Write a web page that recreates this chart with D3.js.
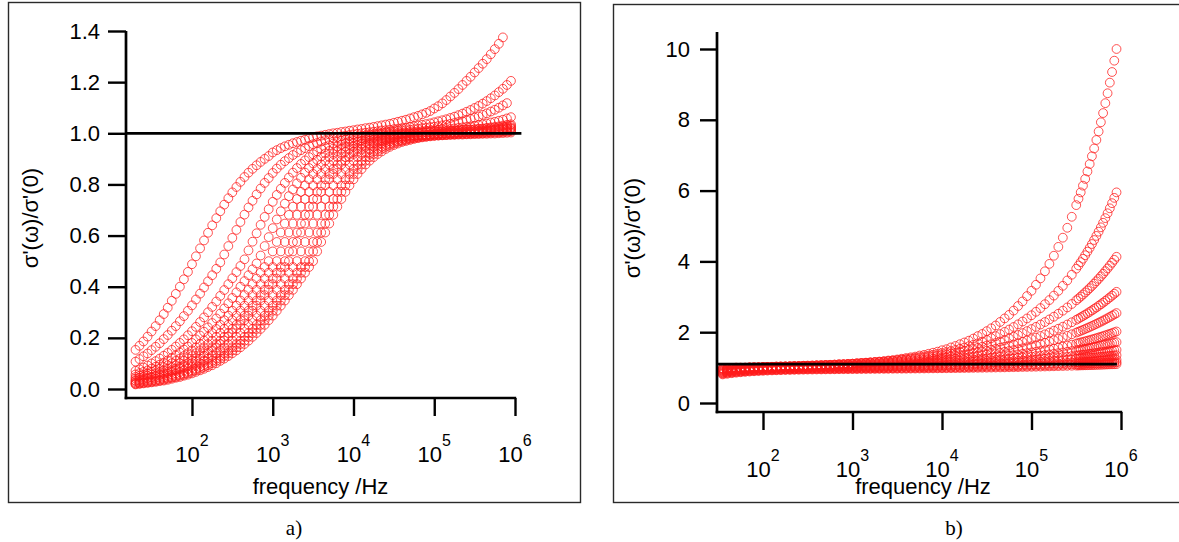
<!DOCTYPE html>
<html><head><meta charset="utf-8">
<script src="https://cdn.jsdelivr.net/npm/d3@7"></script>
<style>body{margin:0;background:#fff}svg{display:block}</style>
</head><body>
<svg id="chart" width="1179" height="542"></svg>
<script>
// ---------- Panel a) data ----------
const freqA = [20,22.4,25.1,28.2,31.6,35.5,39.8,44.7,50.1,56.2,63.1,70.8,79.4,89.1,
100,112,126,141,158,178,200,224,251,282,316,355,398,447,501,562,631,708,794,891,
1000,1122,1259,1413,1585,1778,1995,2239,2512,2818,3162,3548,3981,4467,5012,5623,6310,7079,7943,8913,
10000,11220,12590,14130,15850,17780,19950,22390,25120,28180,31620,35480,39810,44670,50120,56230,63100,70790,79430,89130,
100000,112200,125900,141300,158500,177800,199500,223900,251200,281800,316200,354800,398100,446700,501200,562300,631000,707900,794300,891300];

const a01 = [0.153,0.169,0.186,0.205,0.225,0.246,0.269,0.293,0.318,0.345,0.372,0.400,0.429,0.458,
0.488,0.519,0.550,0.581,0.611,0.640,0.668,0.695,0.721,0.746,0.769,0.790,0.810,0.829,0.846,0.861,0.875,0.888,0.900,0.911,
0.925,0.934,0.942,0.949,0.955,0.961,0.966,0.971,0.975,0.980,0.984,0.988,0.991,0.994,0.997,1.000,1.002,1.005,1.007,1.010,
1.012,1.015,1.017,1.020,1.022,1.025,1.028,1.031,1.034,1.037,1.041,1.045,1.049,1.053,1.058,1.063,1.068,1.074,1.080,1.087,
1.097,1.106,1.117,1.130,1.144,1.158,1.173,1.189,1.205,1.221,1.238,1.255,1.272,1.290,1.309,1.329,1.350,1.375,null,null];
const a02 = [0.107,0.117,0.128,0.139,0.152,0.165,0.179,0.195,0.211,0.228,0.246,0.265,0.285,0.306,
0.327,0.350,0.373,0.397,0.421,0.445,0.470,0.495,0.526,0.559,0.591,0.622,0.653,0.682,0.710,0.736,0.761,0.784,0.806,0.825,
0.845,0.862,0.877,0.891,0.903,0.915,0.925,0.934,0.942,0.950,0.957,0.962,0.968,0.973,0.977,0.981,0.985,0.988,0.991,0.993,
0.996,0.998,1.000,1.002,1.004,1.006,1.008,1.011,1.012,1.014,1.016,1.018,1.020,1.022,1.025,1.027,1.030,1.033,1.036,1.039,
1.043,1.047,1.051,1.055,1.060,1.065,1.071,1.077,1.084,1.091,1.099,1.107,1.116,1.126,1.137,1.148,1.161,1.174,1.189,1.205];
const a03 = [0.071,0.077,0.084,0.092,0.100,0.109,0.119,0.130,0.141,0.153,0.166,0.180,0.194,0.210,
0.226,0.243,0.262,0.280,0.300,0.321,0.342,0.364,0.387,0.410,0.433,0.457,0.481,0.507,0.542,0.576,0.609,0.642,0.673,0.703,
0.732,0.759,0.783,0.806,0.827,0.846,0.864,0.880,0.894,0.907,0.918,0.929,0.938,0.946,0.953,0.960,0.966,0.970,0.975,0.979,
0.984,0.986,0.990,0.992,0.995,0.997,0.999,1.001,1.004,1.005,1.007,1.009,1.011,1.012,1.014,1.016,1.018,1.020,1.022,1.024,
1.026,1.028,1.031,1.034,1.037,1.040,1.044,1.047,1.052,1.056,1.061,1.066,1.072,1.078,1.085,1.092,1.100,1.109,1.118,null];
const a04 = [0.057,0.062,0.067,0.073,0.080,0.087,0.095,0.103,0.112,0.121,0.131,0.142,0.154,0.166,
0.180,0.194,0.209,0.224,0.241,0.258,0.276,0.295,0.315,0.335,0.356,0.378,0.400,0.422,0.445,0.468,0.491,0.522,0.559,0.594,
0.629,0.663,0.695,0.725,0.754,0.780,0.804,0.826,0.846,0.864,0.882,0.896,0.909,0.921,0.931,0.940,0.948,0.955,0.962,0.967,
0.973,0.977,0.980,0.984,0.987,0.989,0.992,0.994,0.996,0.998,1.000,1.001,1.002,1.003,1.005,1.006,1.007,1.008,1.010,1.011,
1.012,1.013,1.015,1.016,1.017,1.019,1.021,1.023,1.025,1.027,1.029,1.032,1.035,1.038,1.042,1.045,1.049,1.053,1.058,1.063];
const a05 = [0.047,0.052,0.056,0.061,0.067,0.073,0.079,0.086,0.093,0.101,0.110,0.119,0.129,0.140,
0.151,0.163,0.176,0.189,0.204,0.219,0.235,0.251,0.269,0.287,0.306,0.326,0.346,0.367,0.388,0.410,0.432,0.455,0.477,0.500,
0.538,0.575,0.612,0.647,0.681,0.713,0.743,0.771,0.796,0.820,0.841,0.860,0.878,0.893,0.907,0.919,0.930,0.940,0.948,0.955,
0.961,0.967,0.971,0.976,0.980,0.983,0.986,0.988,0.991,0.993,0.995,0.996,0.998,0.999,1.000,1.001,1.002,1.003,1.004,1.005,
1.006,1.007,1.008,1.009,1.010,1.011,1.012,1.013,1.014,1.015,1.016,1.018,1.019,1.021,1.023,1.025,1.027,1.030,1.033,1.035];
const a06 = [0.040,0.044,0.047,0.052,0.056,0.061,0.067,0.073,0.079,0.086,0.093,0.101,0.110,0.119,
0.129,0.140,0.151,0.163,0.176,0.189,0.204,0.219,0.235,0.251,0.269,0.287,0.306,0.326,0.346,0.367,0.388,0.410,0.432,0.455,
0.477,0.500,0.538,0.575,0.612,0.647,0.681,0.713,0.743,0.771,0.796,0.820,0.841,0.860,0.878,0.893,0.907,0.919,0.929,0.939,
0.947,0.954,0.960,0.966,0.970,0.974,0.978,0.981,0.984,0.986,0.991,0.993,0.995,0.996,0.998,0.999,1.000,1.001,1.003,1.004,
1.005,1.006,1.007,1.008,1.009,1.010,1.011,1.012,1.013,1.014,1.015,1.016,1.017,1.019,1.020,1.022,1.024,1.026,1.028,1.030];
const a07 = [0.033,0.036,0.040,0.044,0.047,0.052,0.056,0.061,0.067,0.073,0.079,0.086,0.093,0.101,
0.110,0.119,0.129,0.140,0.151,0.163,0.176,0.189,0.204,0.219,0.235,0.251,0.269,0.287,0.306,0.326,0.346,0.367,0.388,0.410,
0.432,0.455,0.477,0.500,0.538,0.575,0.612,0.647,0.681,0.713,0.743,0.771,0.796,0.820,0.841,0.860,0.878,0.893,0.907,0.919,
0.929,0.939,0.947,0.954,0.960,0.966,0.970,0.974,0.978,0.981,0.984,0.986,0.988,0.990,0.991,0.992,0.993,0.994,0.995,0.996,
0.999,1.000,1.001,1.002,1.003,1.004,1.005,1.006,1.007,1.008,1.009,1.010,1.012,1.013,1.015,1.016,1.018,1.020,1.022,1.024];
const a08 = [0.031,0.033,0.036,0.040,0.044,0.047,0.052,0.056,0.061,0.067,0.073,0.079,0.086,0.093,
0.101,0.110,0.119,0.129,0.140,0.151,0.163,0.176,0.189,0.204,0.219,0.235,0.251,0.269,0.287,0.306,0.326,0.346,0.367,0.388,
0.410,0.432,0.455,0.477,0.500,0.538,0.575,0.612,0.647,0.681,0.713,0.743,0.771,0.796,0.820,0.841,0.860,0.878,0.893,0.907,
0.919,0.929,0.939,0.947,0.954,0.960,0.966,0.970,0.974,0.978,0.981,0.984,0.986,0.988,0.990,0.991,0.992,0.993,0.994,0.995,
0.997,0.998,0.999,1.000,1.001,1.002,1.003,1.004,1.005,1.006,1.007,1.008,1.009,1.010,1.011,1.013,1.014,1.016,1.018,1.020];
const a09 = [0.026,0.028,0.031,0.033,0.036,0.040,0.044,0.047,0.052,0.056,0.061,0.067,0.073,0.079,
0.086,0.093,0.101,0.110,0.119,0.129,0.140,0.151,0.163,0.176,0.189,0.204,0.219,0.235,0.251,0.269,0.287,0.306,0.326,0.346,
0.367,0.388,0.410,0.432,0.455,0.477,0.500,0.538,0.575,0.612,0.647,0.681,0.713,0.743,0.771,0.796,0.820,0.841,0.860,0.878,
0.893,0.907,0.919,0.929,0.939,0.947,0.954,0.960,0.966,0.970,0.974,0.978,0.981,0.984,0.986,0.988,0.990,0.991,0.992,0.993,
0.995,0.996,0.997,0.998,0.999,1.000,1.001,1.002,1.003,1.004,1.005,1.006,1.007,1.008,1.009,1.011,1.012,1.014,1.016,1.018];
const a10 = [0.022,0.024,0.026,0.028,0.031,0.033,0.036,0.040,0.044,0.047,0.052,0.056,0.061,0.067,
0.073,0.079,0.086,0.093,0.101,0.110,0.119,0.129,0.140,0.151,0.163,0.176,0.189,0.204,0.219,0.235,0.251,0.269,0.287,0.306,
0.326,0.346,0.367,0.388,0.410,0.432,0.455,0.477,0.500,0.538,0.575,0.612,0.647,0.681,0.713,0.743,0.771,0.796,0.820,0.841,
0.860,0.878,0.893,0.907,0.919,0.929,0.939,0.947,0.954,0.960,0.966,0.970,0.974,0.978,0.981,0.984,0.986,0.988,0.990,0.991,
0.992,0.993,0.994,0.995,0.996,0.997,0.998,0.998,0.999,1.000,1.001,1.002,1.003,1.004,1.005,1.006,1.007,1.008,1.010,1.012];
const a11 = [0.020,0.022,0.024,0.026,0.028,0.031,0.033,0.036,0.040,0.044,0.047,0.052,0.056,0.061,
0.067,0.073,0.079,0.086,0.093,0.101,0.110,0.119,0.129,0.140,0.151,0.163,0.176,0.189,0.204,0.219,0.235,0.251,0.269,0.287,
0.306,0.326,0.346,0.367,0.388,0.410,0.432,0.455,0.477,0.500,0.538,0.575,0.612,0.647,0.681,0.713,0.743,0.771,0.796,0.820,
0.841,0.860,0.878,0.893,0.907,0.919,0.929,0.939,0.947,0.954,0.960,0.966,0.970,0.974,0.978,0.981,0.984,0.986,0.988,0.990,
0.991,0.992,0.993,0.994,0.995,0.996,0.997,0.998,0.998,0.999,0.999,1.000,1.000,1.001,1.002,1.003,1.004,1.005,1.006,1.008];
const a12 = [0.018,0.020,0.022,0.024,0.026,0.028,0.031,0.033,0.036,0.040,0.044,0.047,0.052,0.056,
0.061,0.067,0.073,0.079,0.086,0.093,0.101,0.110,0.119,0.129,0.140,0.151,0.163,0.176,0.189,0.204,0.219,0.235,0.251,0.269,
0.287,0.306,0.326,0.346,0.367,0.388,0.410,0.432,0.455,0.477,0.500,0.538,0.575,0.612,0.647,0.681,0.713,0.743,0.771,0.796,
0.820,0.841,0.860,0.878,0.893,0.907,0.919,0.929,0.939,0.947,0.954,0.960,0.966,0.970,0.974,0.978,0.981,0.984,0.986,0.988,
0.990,0.991,0.992,0.993,0.994,0.994,0.995,0.995,0.996,0.996,0.997,0.997,0.998,0.998,0.999,0.999,1.000,1.001,1.002,1.003];
const seriesA = [a01,a02,a03,a04,a05,a06,a07,a08,a09,a10,a11,a12];
const yTicksA = [0,0.2,0.4,0.6,0.8,1.0,1.2,1.4];
const refLevelA = 1.0;
const refSpanA = [15.2, 1.2e6];

// ---------- Panel b) data ----------
const freqB = [35.5,39.8,44.7,50.1,56.2,63.1,70.8,79.4,89.1,
100,112,126,141,158,178,200,224,251,282,316,355,398,447,501,562,631,708,794,891,
1000,1122,1259,1413,1585,1778,1995,2239,2512,2818,3162,3548,3981,4467,5012,5623,6310,7079,7943,8913,
10000,11220,12590,14130,15850,17780,19950,22390,25120,28180,31620,35480,39810,44670,50120,56230,63100,70790,79430,89130,
100000,112200,125900,141300,158500,177800,199500,223900,251200,281800,316200,
335000,354800,375800,398100,421700,446700,473200,501200,530900,562300,595700,631000,668300,707900,749900,794300,841400,891300];

const b01 = [0.98,0.99,0.99,1.00,1.00,1.00,1.01,1.01,1.01,
1.02,1.02,1.02,1.03,1.03,1.03,1.03,1.04,1.04,1.05,1.05,1.05,1.06,1.06,1.07,1.07,1.08,1.09,1.09,1.10,
1.11,1.12,1.13,1.14,1.15,1.16,1.17,1.18,1.20,1.21,1.23,1.25,1.27,1.29,1.31,1.34,1.36,1.39,1.42,1.45,
1.49,1.52,1.57,1.61,1.66,1.71,1.76,1.82,1.89,1.95,2.03,2.11,2.19,2.29,2.39,2.49,2.61,2.74,2.87,3.02,
3.17,3.34,3.52,3.72,3.93,4.16,4.41,4.67,4.95,5.26,5.59,
5.77,5.95,6.14,6.33,6.54,6.75,6.97,7.19,7.43,7.67,7.93,8.19,8.47,8.75,9.05,9.35,9.67,10.00];
const b02 = [0.970,0.975,0.980,0.986,0.990,0.995,1.000,1.004,1.008,
1.010,1.015,1.020,1.020,1.026,1.030,1.034,1.038,1.040,1.050,1.050,1.055,1.060,1.065,1.070,1.075,1.080,1.088,1.094,1.100,
1.108,1.116,1.124,1.133,1.142,1.152,1.163,1.174,1.186,1.199,1.213,1.227,1.243,1.260,1.277,1.296,1.316,1.337,1.360,1.384,
1.410,1.437,1.466,1.498,1.531,1.566,1.604,1.644,1.687,1.732,1.781,1.832,1.888,1.946,2.009,2.075,2.147,2.222,2.302,2.388,
2.479,2.577,2.680,2.791,2.908,3.034,3.167,3.310,3.462,3.623,3.795,
3.886,3.979,4.075,4.174,4.276,4.382,4.491,4.604,4.720,4.840,4.963,5.091,5.223,5.360,5.500,5.645,5.795,5.950];
const b03 = [0.964,0.972,0.979,0.986,0.991,0.997,1.002,1.007,1.011,
1.016,1.020,1.024,1.028,1.032,1.036,1.040,1.044,1.048,1.052,1.056,1.060,1.065,1.070,1.075,1.080,1.086,1.091,1.097,1.103,
1.110,1.117,1.125,1.132,1.140,1.149,1.158,1.167,1.177,1.188,1.199,1.211,1.224,1.237,1.251,1.266,1.282,1.298,1.316,1.334,
1.354,1.375,1.396,1.419,1.444,1.470,1.497,1.526,1.556,1.588,1.622,1.658,1.696,1.736,1.779,1.824,1.871,1.921,1.974,2.030,
2.089,2.151,2.217,2.287,2.361,2.438,2.521,2.608,2.700,2.797,2.900,
2.953,3.008,3.065,3.123,3.182,3.244,3.307,3.372,3.439,3.507,3.578,3.650,3.725,3.801,3.880,3.961,4.044,4.130];
const b04 = [0.945,0.954,0.963,0.969,0.977,0.982,0.988,0.993,0.997,
1.002,1.006,1.011,1.015,1.018,1.022,1.026,1.030,1.033,1.037,1.041,1.045,1.049,1.053,1.058,1.062,1.067,1.072,1.077,1.082,
1.088,1.094,1.100,1.107,1.113,1.120,1.128,1.135,1.143,1.152,1.161,1.170,1.180,1.190,1.201,1.213,1.225,1.238,1.251,1.265,
1.280,1.295,1.312,1.329,1.347,1.366,1.386,1.407,1.429,1.453,1.477,1.503,1.530,1.559,1.589,1.620,1.654,1.689,1.726,1.764,
1.805,1.848,1.893,1.940,1.990,2.043,2.098,2.156,2.217,2.281,2.349,
2.384,2.420,2.457,2.495,2.534,2.574,2.615,2.657,2.699,2.744,2.789,2.835,2.883,2.932,2.982,3.033,3.086,3.140];
const b05 = [0.932,0.942,0.951,0.960,0.967,0.973,0.980,0.984,0.990,
0.994,0.999,1.003,1.006,1.010,1.014,1.017,1.020,1.023,1.027,1.030,1.034,1.037,1.041,1.044,1.048,1.052,1.056,1.060,1.065,
1.070,1.074,1.079,1.084,1.089,1.094,1.100,1.106,1.112,1.119,1.126,1.133,1.140,1.148,1.157,1.166,1.175,1.184,1.195,1.205,
1.216,1.228,1.240,1.253,1.267,1.281,1.296,1.312,1.328,1.346,1.364,1.383,1.403,1.424,1.446,1.469,1.493,1.518,1.545,1.573,
1.602,1.633,1.666,1.700,1.735,1.773,1.812,1.853,1.897,1.942,1.990,
2.014,2.040,2.065,2.092,2.119,2.147,2.176,2.205,2.235,2.266,2.297,2.329,2.362,2.396,2.431,2.466,2.503,2.540];
const b06 = [0.912,0.923,0.933,0.942,0.951,0.958,0.964,0.970,0.976,
0.980,0.984,0.989,0.993,0.996,1.000,1.003,1.006,1.009,1.012,1.015,1.018,1.022,1.024,1.028,1.031,1.034,1.038,1.041,1.044,
1.048,1.052,1.056,1.059,1.063,1.068,1.072,1.077,1.082,1.087,1.093,1.098,1.104,1.110,1.116,1.123,1.130,1.137,1.144,1.152,
1.160,1.169,1.178,1.187,1.197,1.207,1.218,1.229,1.240,1.252,1.265,1.278,1.292,1.306,1.321,1.337,1.353,1.371,1.389,1.407,
1.427,1.447,1.469,1.491,1.514,1.539,1.564,1.591,1.619,1.648,1.678,
1.694,1.710,1.726,1.743,1.760,1.777,1.795,1.813,1.832,1.851,1.871,1.891,1.911,1.932,1.954,1.975,1.997,2.020];
const b07 = [0.900,0.913,0.923,0.933,0.941,0.949,0.956,0.962,0.967,
0.973,0.978,0.981,0.985,0.989,0.992,0.995,0.998,1.002,1.004,1.007,1.009,1.012,1.015,1.017,1.020,1.022,1.025,1.028,1.030,
1.033,1.037,1.040,1.043,1.046,1.049,1.053,1.057,1.061,1.065,1.069,1.073,1.077,1.082,1.086,1.091,1.097,1.102,1.107,1.113,
1.119,1.126,1.132,1.139,1.146,1.154,1.161,1.169,1.178,1.187,1.196,1.205,1.215,1.226,1.237,1.248,1.260,1.272,1.285,1.298,
1.312,1.326,1.341,1.357,1.373,1.390,1.408,1.427,1.446,1.466,1.487,
1.498,1.509,1.520,1.532,1.543,1.555,1.568,1.580,1.593,1.606,1.619,1.633,1.647,1.661,1.675,1.690,1.705,1.720];
const b08 = [0.877,0.891,0.903,0.913,0.923,0.931,0.939,0.945,0.950,
0.955,0.960,0.964,0.968,0.973,0.976,0.979,0.981,0.984,0.987,0.989,0.992,0.994,0.996,0.998,1.000,1.003,1.005,1.007,1.009,
1.012,1.015,1.017,1.019,1.022,1.024,1.027,1.030,1.033,1.036,1.039,1.042,1.046,1.049,1.053,1.056,1.060,1.064,1.068,1.073,
1.077,1.082,1.087,1.092,1.097,1.103,1.108,1.114,1.120,1.127,1.133,1.140,1.148,1.155,1.163,1.171,1.179,1.188,1.197,1.207,
1.217,1.227,1.238,1.249,1.260,1.272,1.285,1.298,1.311,1.325,1.340,
1.347,1.355,1.362,1.370,1.379,1.387,1.395,1.404,1.413,1.422,1.431,1.440,1.450,1.459,1.469,1.479,1.490,1.500];
const b09 = [0.865,0.880,0.893,0.904,0.915,0.923,0.931,0.938,0.944,
0.949,0.955,0.959,0.963,0.966,0.969,0.972,0.975,0.978,0.980,0.983,0.985,0.987,0.989,0.992,0.993,0.995,0.997,0.998,1.001,
1.002,1.005,1.007,1.009,1.010,1.012,1.014,1.017,1.019,1.021,1.024,1.027,1.029,1.032,1.034,1.037,1.040,1.043,1.046,1.049,
1.053,1.056,1.060,1.064,1.068,1.072,1.076,1.080,1.085,1.089,1.094,1.099,1.104,1.110,1.115,1.121,1.127,1.134,1.140,1.147,
1.154,1.161,1.169,1.176,1.185,1.193,1.202,1.211,1.220,1.230,1.240,
1.245,1.250,1.256,1.261,1.267,1.273,1.278,1.284,1.290,1.297,1.303,1.309,1.316,1.322,1.329,1.336,1.343,1.350];
const b10 = [0.843,0.860,0.873,0.886,0.896,0.906,0.914,0.922,0.927,
0.934,0.938,0.943,0.947,0.950,0.954,0.957,0.959,0.962,0.964,0.966,0.969,0.971,0.971,0.973,0.975,0.976,0.979,0.980,0.982,
0.983,0.984,0.986,0.988,0.989,0.991,0.992,0.994,0.996,0.998,1.000,1.001,1.003,1.005,1.007,1.009,1.011,1.013,1.016,1.018,
1.020,1.023,1.025,1.028,1.031,1.033,1.036,1.039,1.043,1.046,1.049,1.053,1.056,1.060,1.064,1.068,1.072,1.076,1.081,1.085,
1.090,1.095,1.100,1.105,1.111,1.116,1.122,1.128,1.135,1.141,1.148,
1.151,1.155,1.158,1.162,1.166,1.169,1.173,1.177,1.181,1.185,1.189,1.193,1.198,1.202,1.206,1.211,1.215,1.220];
const b11 = [0.830,0.847,0.862,0.875,0.886,0.897,0.905,0.914,0.920,
0.926,0.931,0.936,0.940,0.943,0.947,0.950,0.952,0.955,0.957,0.959,0.961,0.963,0.964,0.966,0.967,0.968,0.971,0.972,0.972,
0.974,0.975,0.976,0.978,0.979,0.980,0.981,0.982,0.983,0.985,0.986,0.987,0.988,0.990,0.991,0.993,0.994,0.996,0.998,0.999,
1.001,1.003,1.005,1.007,1.009,1.011,1.013,1.015,1.018,1.020,1.022,1.025,1.028,1.031,1.033,1.036,1.039,1.042,1.046,1.049,
1.053,1.056,1.060,1.064,1.068,1.072,1.076,1.081,1.086,1.091,1.096,
1.099,1.102,1.104,1.107,1.110,1.112,1.115,1.118,1.121,1.124,1.127,1.130,1.134,1.137,1.140,1.143,1.146,1.150];
const b12 = [0.808,0.826,0.842,0.857,0.869,0.880,0.889,0.897,0.904,
0.910,0.916,0.921,0.925,0.929,0.933,0.935,0.938,0.940,0.943,0.945,0.946,0.948,0.949,0.951,0.952,0.953,0.955,0.956,0.957,
0.958,0.959,0.961,0.962,0.963,0.964,0.965,0.966,0.967,0.969,0.970,0.970,0.971,0.973,0.974,0.975,0.976,0.978,0.979,0.980,
0.982,0.983,0.985,0.986,0.988,0.989,0.991,0.993,0.995,0.997,0.998,1.001,1.003,1.005,1.007,1.010,1.012,1.014,1.018,1.020,
1.023,1.026,1.029,1.032,1.035,1.038,1.042,1.046,1.050,1.053,1.057,
1.059,1.062,1.063,1.066,1.068,1.070,1.072,1.074,1.077,1.079,1.082,1.084,1.087,1.090,1.092,1.094,1.097,1.100];
const seriesB = [b01,b02,b03,b04,b05,b06,b07,b08,b09,b10,b11,b12];
const yTicksB = [0,2,4,6,8,10];
const refLevelB = 1.1;
const refSpanB = [29.9, 9.0e5];

const xTickExps = [2,3,4,5,6];

// ---------- drawing ----------
const svg = d3.select('#chart');
const SANS = '"Liberation Sans", Arial, Helvetica, sans-serif';
const SERIF = '"Liberation Serif", "Times New Roman", serif';

function panel(cfg){
  const g = svg.append('g');
  g.append('rect').attr('x', cfg.frame[0]).attr('y', cfg.frame[1])
    .attr('width', cfg.frame[2]).attr('height', cfg.frame[3])
    .attr('fill','none').attr('stroke','#2a2a2a').attr('stroke-width',1.4);

  const x = d3.scaleLog().domain(cfg.xDomain).range(cfg.xRange);
  const y = d3.scaleLinear().domain(cfg.yDomain).range(cfg.yRange);

  cfg.series.forEach(s => {
    const pts = cfg.freq.map((f,i)=>({f, v:s[i]})).filter(d => d.v != null);
    g.append('g').selectAll('circle').data(pts).join('circle')
      .attr('cx', d => x(d.f)).attr('cy', d => y(d.v)).attr('r', 4.4)
      .attr('fill','none').attr('stroke','#ff1a1a').attr('stroke-width',0.85)
      .attr('stroke-opacity',0.9);
  });

  g.append('line')
    .attr('x1', x(cfg.refSpan[0])).attr('x2', x(cfg.refSpan[1]))
    .attr('y1', y(cfg.refLevel)).attr('y2', y(cfg.refLevel))
    .attr('stroke','#000').attr('stroke-width',2.8);

  const ya = d3.axisLeft(y).tickValues(cfg.yTicks).tickSize(cfg.yTickLen)
    .tickPadding(cfg.yPad).tickFormat(cfg.yFmt);
  const yg = g.append('g').attr('transform', `translate(${cfg.xRange[0]},0)`).call(ya);
  yg.select('.domain').remove();
  yg.selectAll('.tick line').attr('stroke','#000').attr('stroke-width',2.4);
  yg.selectAll('.tick text').attr('font-family', SANS).attr('font-size', 22).attr('fill','#000');

  const xa = d3.axisBottom(x).tickValues(xTickExps.map(e => Math.pow(10,e)))
    .tickSize(18).tickFormat('');
  const xg = g.append('g').attr('transform', `translate(0,${cfg.xAxisY})`).call(xa);
  xg.select('.domain').remove();
  xg.selectAll('.tick line').attr('stroke','#000').attr('stroke-width',2.4);

  xTickExps.forEach(e => {
    const t = g.append('text').attr('x', x(Math.pow(10,e))).attr('y', cfg.xLabelY)
      .attr('text-anchor','middle').attr('font-family', SANS).attr('font-size', 22).attr('fill','#000');
    t.append('tspan').text('10');
    t.append('tspan').attr('dy', -16).attr('font-size', 16).text(String(e));
  });

  g.append('line').attr('x1', cfg.xRange[0]).attr('x2', cfg.xRange[0])
    .attr('y1', cfg.yAxisTop).attr('y2', cfg.xAxisY + 1.3)
    .attr('stroke','#000').attr('stroke-width',2.7);
  g.append('line').attr('x1', cfg.xRange[0] - 1.3).attr('x2', cfg.xRange[1] + 1.2)
    .attr('y1', cfg.xAxisY).attr('y2', cfg.xAxisY)
    .attr('stroke','#000').attr('stroke-width',2.7);

  g.append('text').attr('x', (cfg.xRange[0]+cfg.xRange[1])/2 + cfg.xTitleDx).attr('y', 494)
    .attr('text-anchor','middle').attr('font-family', SANS).attr('font-size', 22).attr('fill','#000')
    .text('frequency /Hz');
  g.append('text').attr('transform', `translate(${cfg.yTitle[0]},${cfg.yTitle[1]}) rotate(-90)`)
    .attr('text-anchor','middle').attr('dy','0.35em').attr('font-family', SANS).attr('font-size', 22)
    .attr('fill','#000').text("σ'(ω)/σ'(0)");
  g.append('text').attr('x', cfg.sub[0]).attr('y', cfg.sub[1]).attr('text-anchor','middle')
    .attr('font-family', SERIF).attr('font-size', 21).attr('fill','#000').text(cfg.subText);
}

panel({
  frame:[8.5,2.5,572,500], freq:freqA, series:seriesA,
  xDomain:[Math.pow(10,1.183),1e6], xRange:[126,515],
  yDomain:[0,1.4], yRange:[389,31], yTicks:yTicksA, yTickLen:18, yPad:8, yFmt:d3.format('.1f'),
  xAxisY:398, xLabelY:462, yAxisTop:31, refLevel:refLevelA, refSpan:refSpanA,
  xTitleDx:0, yTitle:[30,218], sub:[294,535], subText:'a)'
});
panel({
  frame:[613.5,4.5,600,498], freq:freqB, series:seriesB,
  xDomain:[Math.pow(10,1.486),1e6], xRange:[717,1121],
  yDomain:[0,10], yRange:[403,49], yTicks:yTicksB, yTickLen:17, yPad:10, yFmt:d3.format('d'),
  xAxisY:412, xLabelY:477, yAxisTop:32, refLevel:refLevelB, refSpan:refSpanB,
  xTitleDx:4, yTitle:[632,228], sub:[954,535], subText:'b)'
});
</script>
</body></html>
